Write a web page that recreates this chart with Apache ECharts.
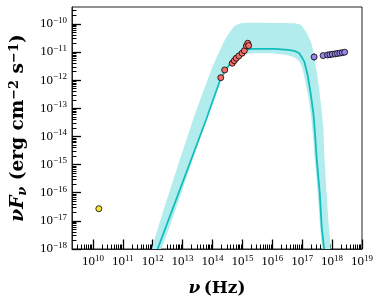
<!DOCTYPE html>
<html><head><meta charset="utf-8">
<script src="https://cdn.jsdelivr.net/npm/echarts@6/dist/echarts.min.js"></script>
<style>html,body{margin:0;padding:0;background:#fff}#c{width:382px;height:307px}</style>
</head><body><div id="c"></div>
<script>
// ---- data ----
const modelNu   = [1.46e12, 6.08e13, 1.89e14, 4.59e14, 7.62e14, 1.256e15, 2.08e15, 1.22e16, 3.35e16, 5.52e16, 8.05e16, 1.18e17, 1.52e17, 1.95e17, 2.40e17, 2.70e17, 3.08e17, 3.86e17, 4.49e17, 5.42e17];
const modelFlux = [1e-18, 3.86e-14, 1.17e-12, 5.25e-12, 9.08e-12, 1.19e-11, 1.29e-11, 1.29e-11, 1.19e-11, 1.10e-11, 9.08e-12, 4.57e-12, 1.54e-12, 2.99e-13, 5.82e-14, 1.13e-14, 1.46e-15, 9.8e-17, 6.05e-18, 1e-18];

const bandUpperNu   = [9.48e11, 2.22e13, 1.01e14, 2.77e14, 5.22e14, 8.61e14, 1.63e15, 5.52e16, 9.16e16, 1.34e17, 1.95e17, 2.51e17, 3.08e17, 3.66e17, 4.39e17, 5.11e17, 5.64e17, 6.56e17, 7.80e17, 8.87e17];
const bandUpperFlux = [1e-18, 3.86e-14, 3.03e-12, 3.10e-11, 8.0e-11, 1.06e-10, 1.11e-10, 1.06e-10, 9.2e-11, 5.32e-11, 2.35e-11, 7.9e-12, 2.01e-12, 5.18e-13, 1.01e-13, 1.96e-14, 1.46e-15, 9.8e-17, 6.05e-18, 1e-18];
const bandLowerNu   = [1.98e12, 6.18e13, 2.0e14, 4.59e14, 7.80e14, 1.32e15, 2.08e15, 1.19e16, 2.94e16, 5.0e16, 7.31e16, 9.89e16, 1.24e17, 1.56e17, 1.95e17, 2.28e17, 2.65e17, 3.32e17, 4.01e17, 4.84e17];
const bandLowerFlux = [1e-18, 3.86e-14, 1.20e-12, 4.46e-12, 7.28e-12, 8.57e-12, 8.93e-12, 8.93e-12, 7.91e-12, 6.71e-12, 5.25e-12, 2.96e-12, 1.02e-12, 2.99e-13, 5.82e-14, 1.13e-14, 1.46e-15, 9.8e-17, 6.05e-18, 1e-18];

const radioNu   = [1.58e10];
const radioFlux = [2.7e-17];

const optNu   = [1.89e14, 2.56e14, 4.59e14, 5.35e14, 6.21e14, 7.62e14, 9.77e14, 1.16e15, 1.36e15, 1.51e15, 1.62e15];
const optFlux = [1.23e-12, 2.31e-12, 4.0e-12, 4.95e-12, 6.03e-12, 7.28e-12, 9.12e-12, 1.12e-11, 1.66e-11, 2.06e-11, 1.70e-11];

const xrayNu    = [2.51e17, 5.01e17, 7.08e17, 8.51e17, 1.02e18, 1.26e18, 1.51e18, 1.82e18, 2.19e18, 2.63e18];
const xrayFlux  = [6.7e-12, 7.5e-12, 7.9e-12, 8.1e-12, 8.4e-12, 8.6e-12, 8.9e-12, 9.2e-12, 9.5e-12, 9.9e-12];
const xrayErrLo = [5.0e-12, 7.0e-12, 7.4e-12, 7.6e-12, 7.9e-12, 8.1e-12, 8.4e-12, 8.6e-12, 8.9e-12, 9.2e-12];
const xrayErrHi = [8.9e-12, 8.0e-12, 8.4e-12, 8.6e-12, 8.9e-12, 9.1e-12, 9.4e-12, 9.8e-12, 10.1e-12, 10.6e-12];
const xrayNuLo  = [2.51e17, 4.3e17, 6.4e17, 7.8e17, 9.3e17, 1.14e18, 1.38e18, 1.66e18, 2.0e18, 2.4e18];
const xrayNuHi  = [2.51e17, 5.8e17, 7.8e17, 9.3e17, 1.14e18, 1.38e18, 1.66e18, 2.0e18, 2.4e18, 2.9e18];

const xTickExp = [10, 11, 12, 13, 14, 15, 16, 17, 18, 19];
const yTickExp = [-18, -17, -16, -15, -14, -13, -12, -11, -10];
const xMin = 2e9, xMax = 1e19, yMin = 1e-18, yMax = 4e-10;

// ---- derived ----
const xMajor = xTickExp.map(e => Math.pow(10, e));
const yMajor = yTickExp.map(e => Math.pow(10, e));
function minors(e0, e1, lo, hi) {
  const out = [];
  for (let e = e0; e <= e1; e++) for (let m = 2; m <= 9; m++) {
    const v = m * Math.pow(10, e);
    if (v > lo && v < hi) out.push(v);
  }
  return out;
}
const xMinor = minors(9, 18, xMin, xMax);
const yMinor = minors(-18, -10, yMin, yMax);

const bandPoly = bandUpperNu.map((v, i) => [v, bandUpperFlux[i]])
  .concat(bandLowerNu.map((v, i) => [v, bandLowerFlux[i]]).reverse());

const serif = 'Liberation Serif';
const nameFont = 'DejaVu Serif';
function expLabel(v) {
  const e = Math.round(Math.log10(v));
  return '{b|10}{s|' + String(e).replace('-', '−') + '}';
}
const labelRich = {
  b: {fontFamily: serif, fontSize: 13, color: '#000'},
  s: {fontFamily: serif, fontSize: 9, color: '#000', verticalAlign: 'bottom', padding: [0, 0, 7, 0]}
};

const chart = echarts.init(document.getElementById('c'), null, {renderer: 'canvas'});
const grid = {left: 68, right: 20, top: 7, bottom: 58, show: true, borderColor: '#222', borderWidth: 1, backgroundColor: 'transparent'};

const baseX = {
  type: 'log', logBase: 10, min: xMin, max: xMax, gridIndex: 0, position: 'bottom',
  splitLine: {show: false}, minorTick: {show: false}, minorSplitLine: {show: false}
};
const baseY = {
  type: 'log', logBase: 10, min: yMin, max: yMax, gridIndex: 0, position: 'left',
  splitLine: {show: false}, minorTick: {show: false}, minorSplitLine: {show: false}
};

chart.setOption({
  animation: false,
  grid: grid,
  xAxis: [
    Object.assign({}, baseX, {
      axisLine: {show: true, lineStyle: {color: '#222', width: 1}},
      axisTick: {show: true, inside: true, length: 9.5, customValues: xMajor, lineStyle: {color: '#000', width: 1.3}},
      axisLabel: {show: true, margin: 5, customValues: xMajor, formatter: expLabel, rich: labelRich},
      name: '{i|ν} {b|(Hz)}', nameLocation: 'middle', nameGap: 31,
      nameTextStyle: {rich: {
        i: {fontFamily: nameFont, fontSize: 17, fontWeight: 'bold', fontStyle: 'italic', color: '#000'},
        b: {fontFamily: nameFont, fontSize: 17, fontWeight: 'bold', color: '#000'}
      }}
    }),
    Object.assign({}, baseX, {
      axisLine: {show: false},
      axisTick: {show: true, inside: true, length: 4.5, customValues: xMinor, lineStyle: {color: '#000', width: 1}},
      axisLabel: {show: false}
    })
  ],
  yAxis: [
    Object.assign({}, baseY, {
      axisLine: {show: true, lineStyle: {color: '#222', width: 1}},
      axisTick: {show: true, inside: true, length: 9, customValues: yMajor, lineStyle: {color: '#000', width: 1.3}},
      axisLabel: {show: true, margin: 5, customValues: yMajor, formatter: expLabel, rich: labelRich},
      name: '{i|νF}{isub|ν}{b| (erg cm}{sup|−2}{b| s}{sup|−1}{b|)}',
      nameLocation: 'middle', nameGap: 40, nameRotate: 90,
      nameTextStyle: {rich: {
        i: {fontFamily: nameFont, fontSize: 18.5, fontWeight: 'bold', fontStyle: 'italic', color: '#000'},
        isub: {fontFamily: nameFont, fontSize: 13, fontWeight: 'bold', fontStyle: 'italic', color: '#000', verticalAlign: 'top', padding: [9, 0, 0, 0]},
        b: {fontFamily: nameFont, fontSize: 18.5, fontWeight: 'bold', color: '#000'},
        sup: {fontFamily: nameFont, fontSize: 13, fontWeight: 'bold', color: '#000', verticalAlign: 'bottom', padding: [0, 0, 8, 0]}
      }}
    }),
    Object.assign({}, baseY, {
      axisLine: {show: false},
      axisTick: {show: true, inside: true, length: 4.5, customValues: yMinor, lineStyle: {color: '#000', width: 1}},
      axisLabel: {show: false}
    })
  ],
  series: [
    {
      type: 'custom', xAxisIndex: 0, yAxisIndex: 0, clip: true, silent: true, z: 1,
      data: [bandPoly[0]],
      renderItem: function (params, api) {
        return {type: 'polygon', shape: {points: bandPoly.map(p => api.coord(p)), smooth: 0.15},
                style: {fill: '#b3ecec', stroke: null}};
      }
    },
    {
      type: 'line', xAxisIndex: 0, yAxisIndex: 0, z: 2, symbol: 'none', smooth: false, clip: true,
      data: modelNu.map((v, i) => [v, modelFlux[i]]),
      lineStyle: {color: '#12bdbd', width: 1.8}
    },
    {
      type: 'custom', xAxisIndex: 0, yAxisIndex: 0, z: 3, silent: true,
      data: xrayNu.map((v, i) => [v, xrayFlux[i], xrayErrLo[i], xrayErrHi[i], xrayNuLo[i], xrayNuHi[i]]),
      renderItem: function (params, api) {
        const x = api.value(0), y = api.value(1);
        const a = api.coord([x, api.value(2)]), b = api.coord([x, api.value(3)]);
        const c = api.coord([api.value(4), y]), d = api.coord([api.value(5), y]);
        return {type: 'group', children: [
          {type: 'line', shape: {x1: a[0], y1: a[1], x2: b[0], y2: b[1]}, style: {stroke: '#000', lineWidth: 1}},
          {type: 'line', shape: {x1: c[0], y1: c[1], x2: d[0], y2: d[1]}, style: {stroke: '#000', lineWidth: 1}}
        ]};
      }
    },
    {
      type: 'scatter', xAxisIndex: 0, yAxisIndex: 0, z: 4, symbolSize: 6,
      data: radioNu.map((v, i) => [v, radioFlux[i]]),
      itemStyle: {color: '#f7e43a', borderColor: '#000', borderWidth: 0.8, opacity: 1}
    },
    {
      type: 'scatter', xAxisIndex: 0, yAxisIndex: 0, z: 4, symbolSize: 6,
      data: optNu.map((v, i) => [v, optFlux[i]]),
      itemStyle: {color: '#f4706b', borderColor: '#000', borderWidth: 0.8, opacity: 1}
    },
    {
      type: 'scatter', xAxisIndex: 0, yAxisIndex: 0, z: 4, symbolSize: 6,
      data: xrayNu.map((v, i) => [v, xrayFlux[i]]),
      itemStyle: {color: '#9a86e6', borderColor: '#000', borderWidth: 0.8, opacity: 1}
    }
  ]
});
</script></body></html>
